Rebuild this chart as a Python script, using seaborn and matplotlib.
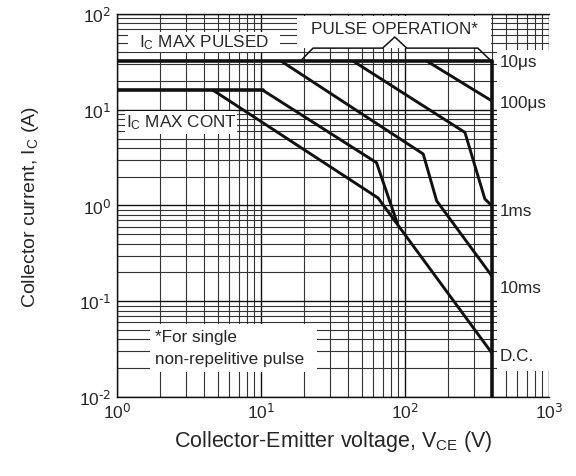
import numpy as np
import pandas as pd
import seaborn as sns
import matplotlib.pyplot as plt
from matplotlib.patches import Rectangle
from matplotlib.ticker import FuncFormatter, LogLocator

# safe operating area
ic_max_pulsed = 32
ic_max_cont = 16
v_max = 400

v_10us = [143, 400]
i_10us = [32, 12.4]
v_100us = [44, 261, 359, 400]
i_100us = [32, 5.8, 1.17, 1.0]
v_1ms = [13.9, 134, 166, 400]
i_1ms = [32, 3.45, 1.12, 0.185]
v_10ms = [10.3, 63.5, 88]
i_10ms = [16, 2.8, 0.67]
v_dc = [4.65, 65, 400]
i_dc = [16, 1.2, 0.029]

curve_names = ['10μs', '100μs', '1ms', '10ms', 'D.C.']
curve_label_y = [32, 12, 0.88, 0.138, 0.027]

rows = []
for name, vs, ii in zip(curve_names,
                        [v_10us, v_100us, v_1ms, v_10ms, v_dc],
                        [i_10us, i_100us, i_1ms, i_10ms, i_dc]):
    for v, i in zip(vs, ii):
        rows.append((name, v, i))
curves = pd.DataFrame(rows, columns=['curve', 'V', 'I'])

limits = pd.DataFrame([
    ('pulsed', 1, ic_max_pulsed), ('pulsed', v_max, ic_max_pulsed),
    ('cont', 1, ic_max_cont), ('cont', v_10ms[0], ic_max_cont),
    ('vmax', v_max, ic_max_pulsed), ('vmax', v_max, 0.01),
], columns=['curve', 'V', 'I'])

sns.set_style('white')
plt.rcParams['font.family'] = ['Liberation Sans', 'DejaVu Sans']
plt.rcParams['mathtext.default'] = 'regular'
plt.rcParams['axes.unicode_minus'] = False

fig, ax = plt.subplots(figsize=(5.76, 4.77), dpi=100)
fig.subplots_adjust(left=0.203, right=0.953, bottom=0.1656, top=0.9686)
ax.set_xscale('log')
ax.set_yscale('log')

sns.lineplot(data=limits, x='V', y='I', units='curve', estimator=None, sort=False,
             color='#111111', lw=2.6, ax=ax, zorder=3)
sns.lineplot(data=curves, x='V', y='I', units='curve', estimator=None, sort=False,
             color='#111111', lw=2.1, ax=ax, zorder=3)

ax.set_xlim(1, 1000)
ax.set_ylim(0.01, 100)

# powers of ten with a plain hyphen in the exponent, like the datasheet
def pow10(v, pos):
    e = int(round(np.log10(v)))
    return r'10$^{\text{%d}}$' % e

for axis in [ax.xaxis, ax.yaxis]:
    axis.set_major_locator(LogLocator(base=10))
    axis.set_major_formatter(FuncFormatter(pow10))

ax.set_axisbelow(True)
ax.grid(which='major', color='#111111', lw=1.0)
ax.grid(which='minor', color='#333333', lw=0.8)
ax.tick_params(which='both', length=0, labelsize=12.5)
ax.tick_params(axis='x', pad=3)
ax.tick_params(axis='y', pad=4)
for s in ['left', 'bottom', 'top']:
    ax.spines[s].set_color('#111111')
    ax.spines[s].set_linewidth(1.0)
ax.spines['right'].set_visible(False)

# white label boxes over the grid
boxes = [(1.19, 40, 13.5, 65), (1.14, 5.6, 6.8, 9.7), (17.8, 44, 398, 95),
         (1.69, 0.0182, 24.5, 0.0578), (435, 0.0187, 1000, 42)]
for x0, y0, x1, y1 in boxes:
    ax.add_patch(Rectangle((x0, y0), x1 - x0, y1 - y0, facecolor='white',
                           edgecolor='none', zorder=2))

# bracket under PULSE OPERATION
ax.plot([18.7, 23, 70, 85, 103, 321, 400], [32, 44, 44, 57.5, 44, 44, 32],
        color='#111111', lw=1.1, zorder=3)

fs = 12.3
ax.text(4.02, 51, r'I$_C$ MAX PULSED', fontsize=fs, ha='center', va='center', zorder=4)
ax.text(2.78, 7.45, r'I$_C$ MAX CONT', fontsize=fs, ha='center', va='center', zorder=4)
ax.text(85, 69.7, 'PULSE OPERATION*', fontsize=fs, ha='center', va='center', zorder=4)
ax.text(1.84, 0.0424, '*For single', fontsize=fs, ha='left', va='center', zorder=4)
ax.text(1.84, 0.025, 'non-repelitive pulse', fontsize=fs, ha='left', va='center', zorder=4)
for name, y in zip(curve_names, curve_label_y):
    ax.text(457, y, name, fontsize=fs, ha='left', va='center', zorder=4)

ax.set_xlabel(r'Collector-Emitter voltage, V$_{CE}$ (V)', fontsize=15.5, labelpad=5)
ax.set_ylabel(r'Collector current, I$_C$ (A)', fontsize=14, labelpad=27)

fig.savefig('out.png', dpi=100)
